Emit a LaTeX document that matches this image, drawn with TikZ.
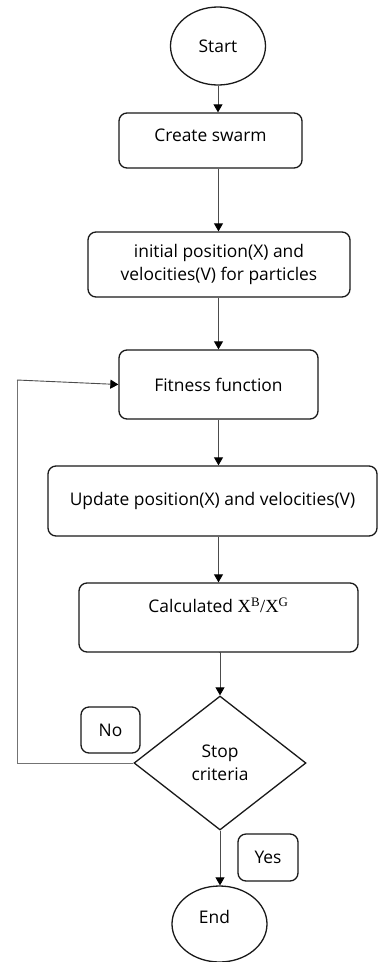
\documentclass[tikz,border=0pt]{standalone}
\usepackage{fontspec}
\setmainfont{Open Sans}
\newfontfamily\mathserif{Liberation Serif}
\usetikzlibrary{shapes.geometric,arrows.meta}
\begin{document}
\begin{tikzpicture}[x=1pt,y=-1pt,
  every node/.style={font=\fontsize{17.4}{23}\selectfont, text=black},
  box/.style={draw=black!90, line width=1.3pt, rounded corners=8pt, inner sep=0pt, align=center},
  oval/.style={draw=black!90, line width=1.3pt, ellipse, inner sep=0pt},
  decide/.style={draw=black!90, line width=1.3pt, diamond, inner sep=0pt, align=center},
  flow/.style={draw=black!70, line width=0.9pt, -{Triangle[length=8pt,width=9pt,color=black]}},
  back/.style={draw=black!55, line width=1pt}]
\useasboundingbox (0,0) rectangle (380,962);
\node[oval, minimum width=95pt, minimum height=78pt] (start) at (218,46) {Start};
\node[box, minimum width=183pt, minimum height=55pt,
  label={[yshift=5pt]center:Create swarm}] (create) at (210.5,140.5) {};
\node[box, minimum width=262pt, minimum height=65pt] (init) at (219,264.5)
  {initial position(X) and\\velocities(V) for particles};
\node[box, minimum width=199pt, minimum height=69pt] (fit) at (218.5,384.5) {Fitness function};
\node[box, minimum width=329pt, minimum height=70pt] (upd) at (212.5,501)
  {Update position(X) and velocities(V)};
\node[box, minimum width=279pt, minimum height=69pt,
  label={[yshift=12pt]center:Calculated {\mathserif\fontsize{18.5}{20}\selectfont X\textsuperscript{B}/X\textsuperscript{G}}}] (calc) at (218.5,617.5) {};
\node[decide, minimum width=172pt, minimum height=134pt] (stop) at (220,763) {Stop\\criteria};
\node[box, minimum width=59pt, minimum height=46pt] (no) at (110.5,730) {No};
\node[box, minimum width=60pt, minimum height=47pt] (yes) at (268,857.5) {Yes};
\node[oval, minimum width=95pt, minimum height=76pt,
  label={[yshift=7pt,xshift=-5pt]center:End}] (end) at (219.5,924) {};
\coordinate (c1) at (17,763);
\coordinate (c2) at (17,380);
\draw[flow] (start.south) -- (start.south |- create.north);
\draw[flow] (218.5,0 |- create.south) -- (218.5,0 |- init.north);
\draw[flow] (init.south -| fit.north) -- (fit.north);
\draw[flow] (fit.south) -- (fit.south |- upd.north);
\draw[flow] (fit.south |- upd.south) -- (fit.south |- calc.north);
\draw[flow] (calc.south) -- (calc.south -| stop.north) -- (stop.north);
\draw[flow] (stop.south) -- (stop.south |- end.north);
\draw[back] (stop.west) -- (c1) -- (c2);
\draw[flow] (c2) -- (fit.west);
\end{tikzpicture}
\end{document}
